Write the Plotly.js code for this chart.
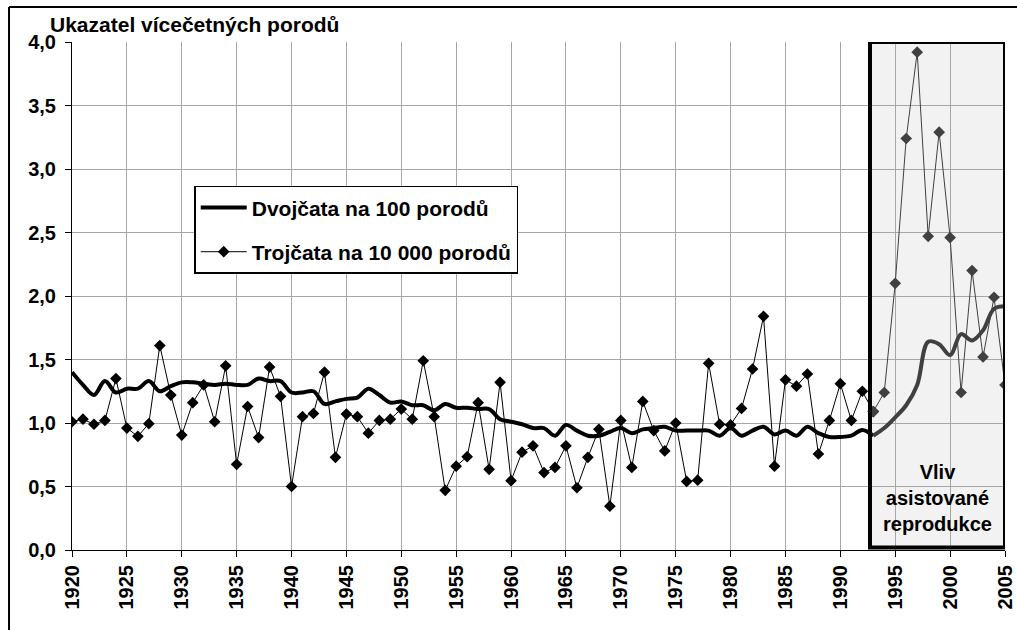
<!DOCTYPE html>
<html>
<head>
<meta charset="utf-8">
<script src="https://cdn.plot.ly/plotly-3.0.1.min.js"></script>
<style>html,body{margin:0;padding:0;background:#fff;}#chart{width:1017px;height:630px;}</style>
</head>
<body>
<div id="chart"></div>
<script>
const years = [];
for (let y = 1920; y <= 2005; y++) years.push(y);

const twins = [
  1.40, 1.30, 1.22, 1.33, 1.24, 1.27, 1.27, 1.33, 1.25, 1.29,
  1.32, 1.32, 1.31, 1.30, 1.31, 1.30, 1.30, 1.35, 1.33, 1.33,
  1.24, 1.24, 1.25, 1.15, 1.17, 1.19, 1.20, 1.27, 1.22, 1.16,
  1.17, 1.14, 1.14, 1.10, 1.15, 1.12, 1.12, 1.11, 1.11, 1.03,
  1.01, 0.99, 0.96, 0.96, 0.90, 0.985, 0.94, 0.90, 0.90, 0.93,
  0.96, 0.92, 0.95, 0.96, 0.97, 0.94, 0.94, 0.94, 0.94, 0.90,
  0.96, 0.90, 0.94, 0.97, 0.91, 0.94, 0.90, 0.97, 0.92, 0.89,
  0.89, 0.90, 0.945, 0.90, 0.96, 1.045, 1.14, 1.30, 1.64, 1.62,
  1.535, 1.70, 1.65, 1.73, 1.90, 1.92
];

const triplets = [
  1.01, 1.03, 0.99, 1.02, 1.35, 0.96, 0.895, 0.995, 1.61, 1.22,
  0.905, 1.16, 1.30, 1.01, 1.45, 0.675, 1.13, 0.885, 1.44, 1.21,
  0.50, 1.05, 1.075, 1.40, 0.73, 1.07, 1.05, 0.92, 1.02, 1.03,
  1.11, 1.03, 1.49, 1.05, 0.47, 0.66, 0.735, 1.16, 0.635, 1.32,
  0.546, 0.77, 0.82, 0.61, 0.65, 0.82, 0.49, 0.73, 0.95, 0.345,
  1.02, 0.65, 1.17, 0.94, 0.78, 1.00, 0.54, 0.55, 1.47, 0.99,
  0.985, 1.115, 1.425, 1.84, 0.66, 1.34, 1.29, 1.386, 0.756, 1.02,
  1.31, 1.02, 1.25, 1.09, 1.24, 2.10, 3.24, 3.92, 2.47, 3.29,
  2.46, 1.24, 2.20, 1.52, 1.99, 1.30
];

const xTicks = [1920,1925,1930,1935,1940,1945,1950,1955,1960,1965,1970,1975,1980,1985,1990,1995,2000,2005];
const yTicks = [0,0.5,1,1.5,2,2.5,3,3.5,4];
const seriesNames = ['Dvojčata na 100 porodů', 'Trojčata na 10 000 porodů'];
const boxLabel = 'Vliv<br>asistované<br>reprodukce';
const chartTitle = 'Ukazatel vícečetných porodů';
const splitYear = 1993;
const boxStart = 1992.7;

const si = years.indexOf(splitYear);
const yA = years.slice(0, si + 1), yB = years.slice(si);

const FONT = 'Arial, "Liberation Sans", sans-serif';
const gray = '#404040';

const traces = [
  {x: yA, y: twins.slice(0, si + 1), name: seriesNames[0], mode: 'lines',
   line: {color: '#000', width: 4, shape: 'spline'}, legendgroup: 'a'},
  {x: yA, y: triplets.slice(0, si + 1), name: seriesNames[1], mode: 'lines+markers',
   line: {color: '#000', width: 1}, marker: {symbol: 'diamond', size: 9, color: '#000'}, legendgroup: 'b'},
  {x: yB, y: twins.slice(si), mode: 'lines', showlegend: false,
   line: {color: gray, width: 4, shape: 'spline'}},
  {x: yB, y: triplets.slice(si), mode: 'lines+markers', showlegend: false,
   line: {color: gray, width: 1}, marker: {symbol: 'diamond', size: 9, color: gray}}
];

const tickFont = {family: FONT, size: 20, color: '#000', weight: 700};

const layout = {
  width: 1017, height: 630,
  margin: {l: 72, r: 12, t: 42, b: 80},
  paper_bgcolor: '#fff', plot_bgcolor: '#fff',
  separators: ', ',
  showlegend: true,
  legend: {
    x: 0.131, y: 0.717, xanchor: 'left', yanchor: 'top',
    bgcolor: '#fff', bordercolor: '#000', borderwidth: 1.5,
    font: {family: FONT, size: 21, color: '#000', weight: 700},
    traceorder: 'grouped', tracegroupgap: 14,
    itemwidth: 46
  },
  xaxis: {
    range: [1920, 2005], tickvals: xTicks, ticktext: xTicks.map(String),
    tickangle: -90, tickfont: tickFont,
    showgrid: true, gridcolor: '#a6a6a6', gridwidth: 1,
    showline: true, linecolor: '#000', linewidth: 1,
    ticks: 'outside', ticklen: 6, tickcolor: '#000', zeroline: false
  },
  yaxis: {
    range: [0, 4], tickvals: yTicks, tickformat: '.1f', tickfont: tickFont,
    showgrid: true, gridcolor: '#a6a6a6', gridwidth: 1,
    showline: true, linecolor: '#000', linewidth: 1,
    ticks: 'outside', ticklen: 6, tickcolor: '#000', zeroline: false,
    ticklabelstandoff: 5
  },
  shapes: [
    {type: 'rect', xref: 'x', yref: 'y', x0: boxStart, x1: 2005, y0: 0.02, y1: 4.0,
     fillcolor: '#f2f2f2', line: {width: 0}, layer: 'below'},
    {type: 'rect', xref: 'x', yref: 'y', x0: boxStart, x1: 2005, y0: 0.02, y1: 4.0,
     fillcolor: 'rgba(0,0,0,0)', line: {color: '#000', width: 4}, layer: 'above'},
    {type: 'line', xref: 'paper', yref: 'paper', x0: -0.0675, x1: 1.02, y0: 1.069, y1: 1.069,
     line: {color: '#000', width: 2}},
    {type: 'line', xref: 'paper', yref: 'paper', x0: -0.0675, x1: -0.0675, y0: -0.17, y1: 1.069,
     line: {color: '#000', width: 2}}
  ],
  annotations: [
    {text: chartTitle, xref: 'paper', yref: 'paper', x: -0.026, y: 1.035,
     xanchor: 'left', yanchor: 'middle', showarrow: false,
     font: {family: FONT, size: 21, color: '#000', weight: 700}},
    {text: boxLabel, xref: 'x', yref: 'y', x: (boxStart + 2005) / 2, y: 0.1,
     xanchor: 'center', yanchor: 'bottom', showarrow: false,
     font: {family: FONT, size: 20, color: '#000', weight: 700}}
  ]
};

Plotly.newPlot('chart', traces, layout, {displayModeBar: false, staticPlot: true});
</script>
</body>
</html>
